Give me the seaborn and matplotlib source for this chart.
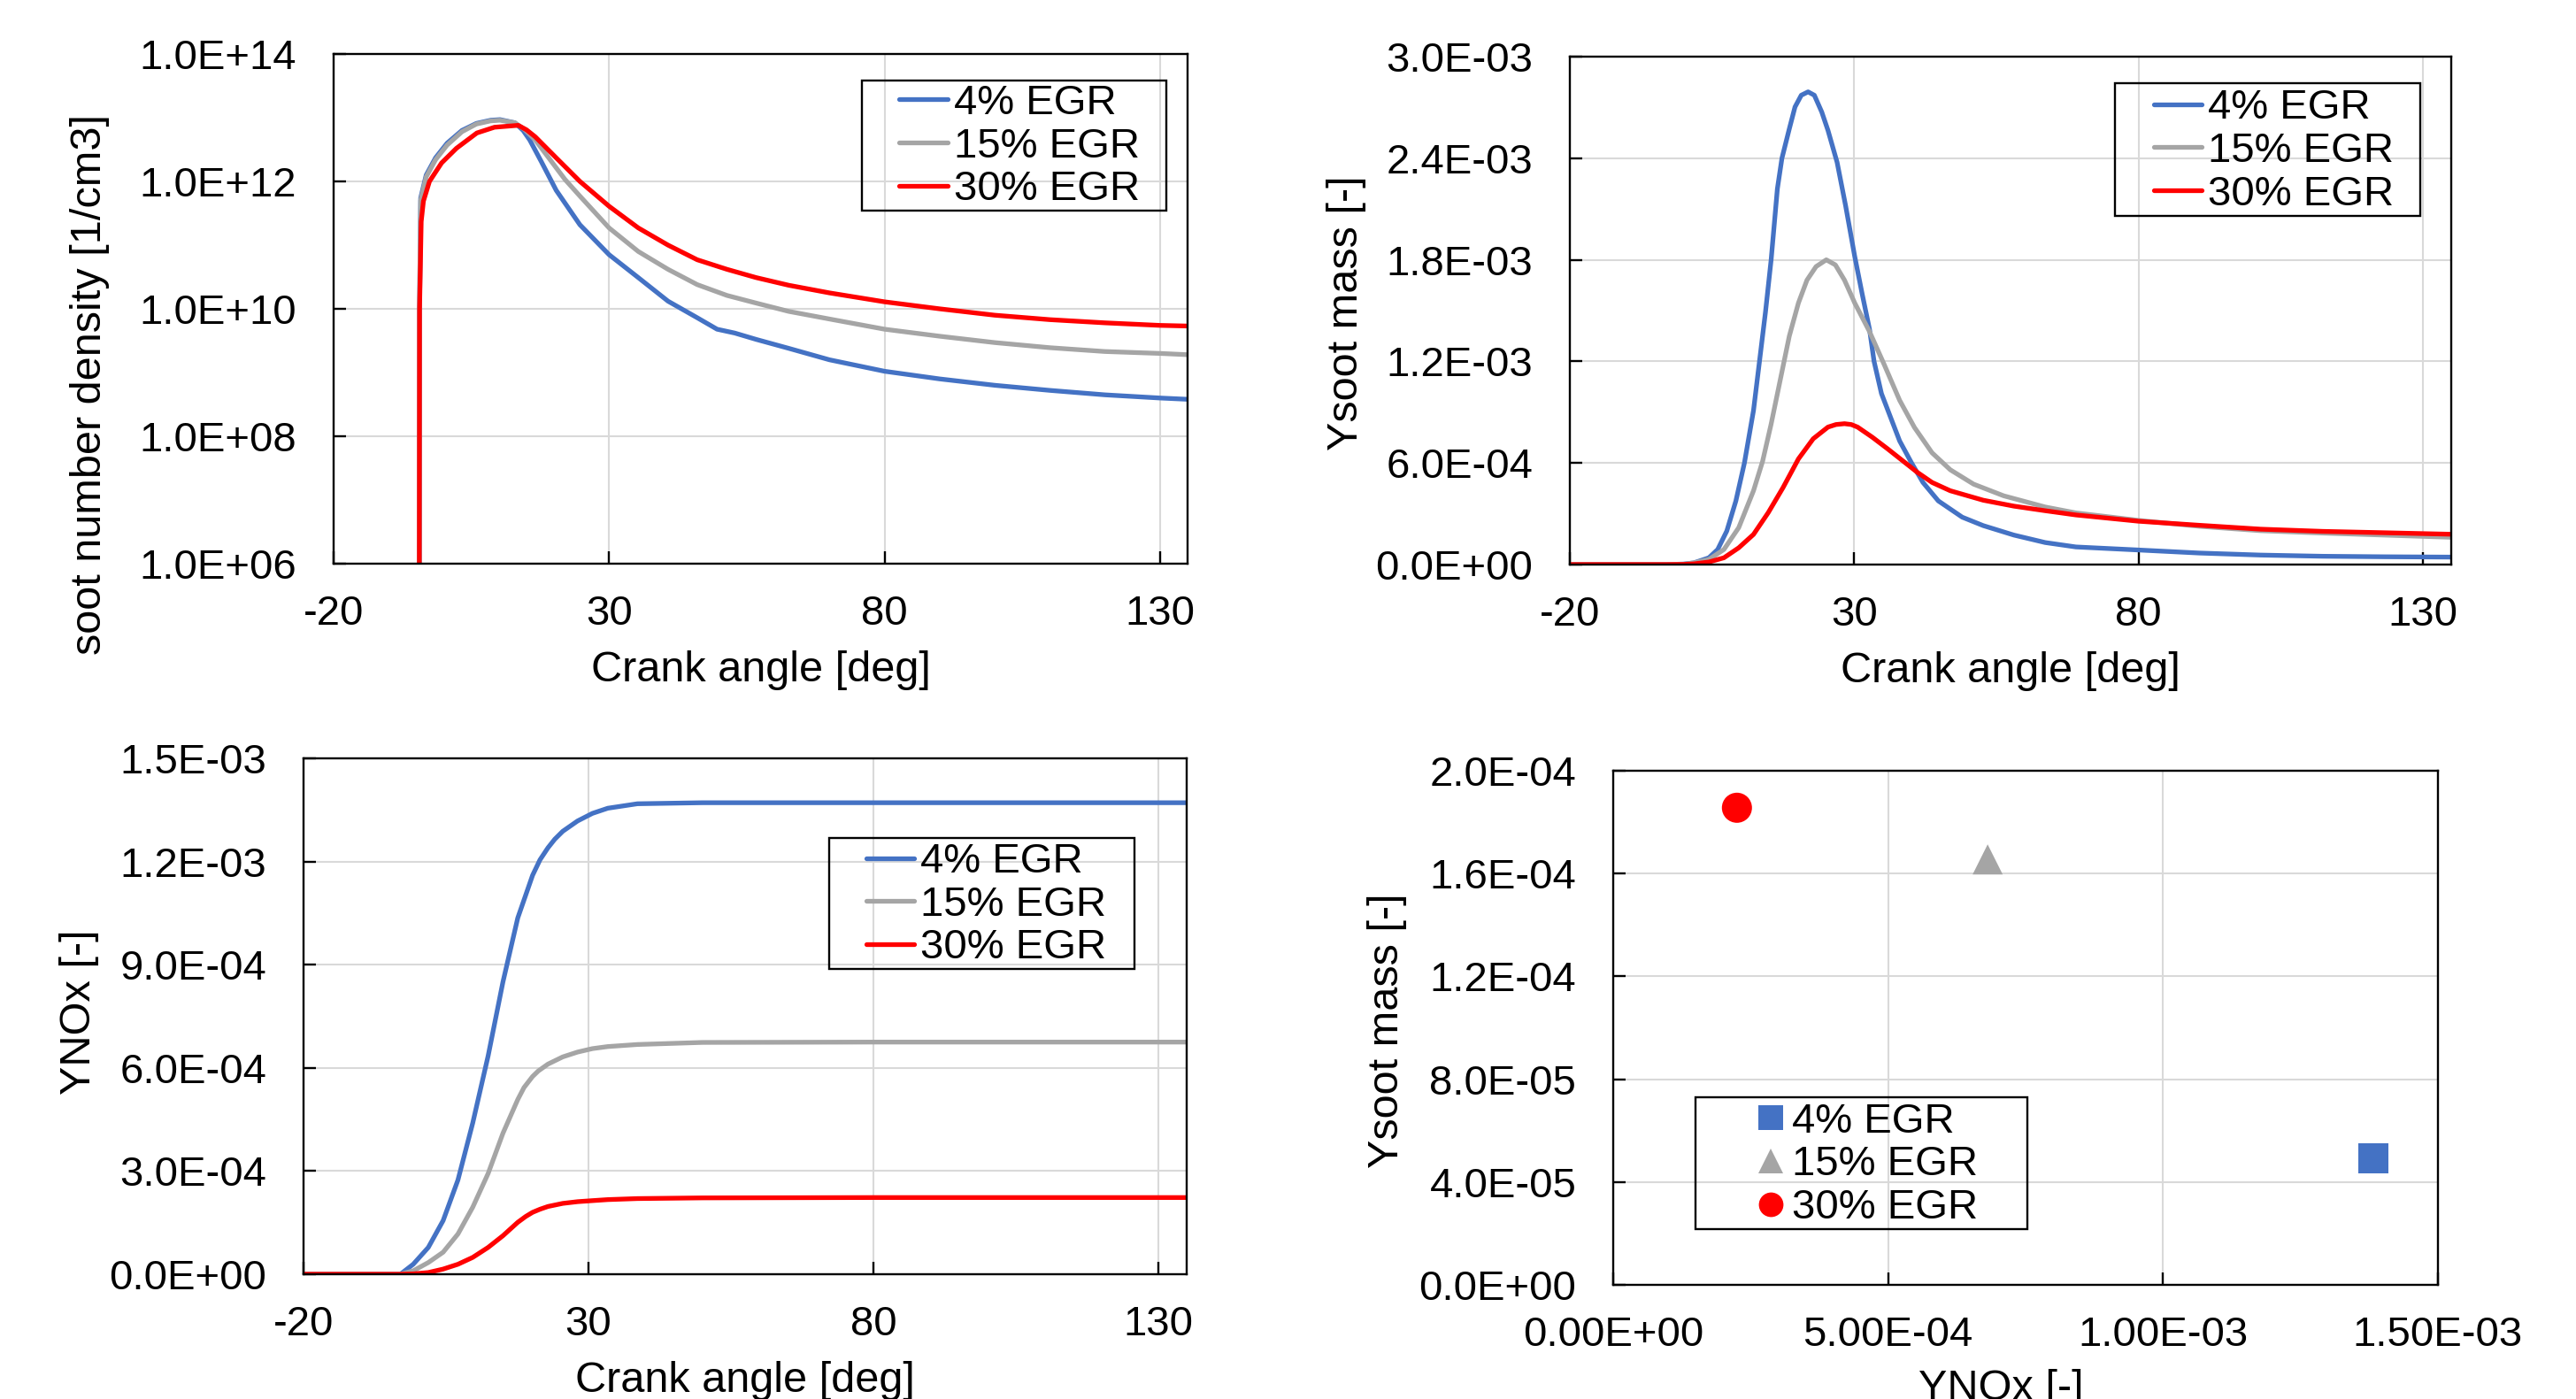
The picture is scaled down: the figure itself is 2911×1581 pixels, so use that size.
import numpy as np
import pandas as pd
import matplotlib
matplotlib.use('Agg')
import matplotlib.pyplot as plt
import matplotlib.ticker as mticker
from matplotlib.lines import Line2D
from matplotlib.patches import Rectangle
import seaborn as sns

# Casos y colores (estilo Excel)
casos = ['4% EGR', '15% EGR', '30% EGR']
colores = ['#4472C4', '#A5A5A5', '#FF0000']

# --- soot number density [1/cm3], guardado como log10 ---
nd_x_4 = [-4.45, -4.4, -4.2, -3.2, -1.5, 0.6, 3.3, 5.9, 8.5, 10.2, 12.9, 14.4, 15.6, 17.7, 20.4, 24.7,
          30, 35.3, 40.7, 46, 49.6, 52.8, 56.7, 62.6, 70, 80, 90, 100, 110, 120, 130, 135]
nd_log_4 = [5.0, 10.0, 11.74, 12.1, 12.37, 12.6, 12.8, 12.91, 12.96, 12.97, 12.92, 12.8, 12.65, 12.31, 11.86, 11.32,
            10.85, 10.49, 10.12, 9.86, 9.68, 9.62, 9.52, 9.38, 9.2, 9.02, 8.9, 8.8, 8.72, 8.65, 8.60, 8.58]
nd_x_15 = [-4.45, -4.4, -4.2, -3.2, -1.5, 0.6, 3.3, 5.9, 8.5, 10.2, 12.9, 14.6, 16.6, 19.3, 22, 24.7,
           30, 35.3, 40.7, 46, 51.4, 56.7, 62.6, 70, 80, 90, 100, 110, 120, 130, 135]
nd_log_15 = [5.0, 10.0, 11.7, 12.07, 12.34, 12.57, 12.78, 12.9, 12.95, 12.96, 12.92, 12.82, 12.65, 12.34, 12.03,
             11.77, 11.27, 10.9, 10.62, 10.38, 10.21, 10.09, 9.96, 9.84, 9.68, 9.57, 9.47, 9.39, 9.33, 9.30, 9.28]
nd_x_30 = [-4.45, -4.4, -4.1, -3.7, -2.6, -0.4, 2.3, 6.0, 9.2, 13.5, 15.0, 16.6, 20.4, 24.7,
           30, 35.3, 40.7, 46, 51.4, 56.7, 62.6, 70, 80, 90, 100, 110, 120, 130, 135]
nd_log_30 = [5.0, 10.0, 11.37, 11.69, 12.0, 12.29, 12.52, 12.76, 12.85, 12.88, 12.81, 12.70, 12.37, 12.0,
             11.61, 11.27, 11.0, 10.77, 10.62, 10.49, 10.37, 10.25, 10.11, 10.0, 9.9, 9.83, 9.78, 9.74, 9.73]

# --- Ysoot mass [-] (x1e-3) ---
ys_x_4 = [-20, -10, -3, 0, 1.8, 4.45, 6.0, 7.6, 9.2, 10.7, 12.3, 13.35, 14.4, 15.4, 16.5, 17.3, 18.6,
          19.6, 20.7, 21.9, 23.0, 24.3, 25.4, 27.0, 28.5, 30.1, 31.4, 32.7, 33.5, 34.8, 36.4, 38.0, 40.1,
          42.1, 44.8, 49.0, 52.7, 58.1, 63.6, 69.0, 80, 90.7, 101.5, 112.4, 123.2, 135]
ys_val_4 = [0, 0, 0, 0.003, 0.01, 0.04, 0.089, 0.198, 0.376, 0.6, 0.91, 1.2, 1.49, 1.8, 2.22, 2.4, 2.574,
            2.703, 2.772, 2.792, 2.772, 2.673, 2.564, 2.376, 2.119, 1.82, 1.6, 1.39, 1.2, 1.01, 0.87, 0.73,
            0.6, 0.485, 0.376, 0.28, 0.23, 0.174, 0.130, 0.104, 0.086, 0.068, 0.056, 0.049, 0.046, 0.044]
ys_x_15 = [-20, -10, -3, 0, 1.8, 4.45, 7.1, 9.7, 12.3, 13.9, 15.4, 17.0, 18.6, 20.2, 21.7, 23.3, 25.1,
           26.7, 28.3, 30.1, 32.7, 35.3, 38.0, 40.6, 43.7, 46.9, 51.0, 56.3, 63.6, 69.0, 80, 90.7,
           101.5, 112.4, 123.2, 135]
ys_val_15 = [0, 0, 0, 0.002, 0.01, 0.03, 0.089, 0.218, 0.436, 0.61, 0.83, 1.09, 1.35, 1.545, 1.68, 1.76,
             1.8, 1.77, 1.68, 1.545, 1.376, 1.18, 0.97, 0.81, 0.66, 0.56, 0.475, 0.406, 0.340, 0.305,
             0.261, 0.226, 0.200, 0.186, 0.174, 0.161]
ys_x_30 = [-20, -10, -3, 0, 1.8, 4.45, 7.1, 9.7, 12.3, 14.9, 17.5, 20.2, 22.8, 25.4, 26.8, 28.3, 29.5,
           30.6, 33.2, 35.9, 38.5, 41.1, 43.7, 46.9, 52.7, 58.1, 63.6, 69.0, 80, 90.7, 101.5, 112.4,
           123.2, 135]
ys_val_30 = [0, 0, 0, 0.001, 0.004, 0.015, 0.04, 0.099, 0.178, 0.307, 0.455, 0.624, 0.743, 0.812, 0.827,
             0.832, 0.827, 0.812, 0.752, 0.683, 0.614, 0.545, 0.485, 0.436, 0.38, 0.345, 0.318, 0.293,
             0.256, 0.232, 0.209, 0.196, 0.188, 0.179]

# --- YNOx [-] (x1e-3) ---
no_x_4 = [-20, -10, -3.0, -0.75, 1.9, 4.5, 7.1, 9.7, 12.4, 15.0, 17.6, 20.2, 21.5, 22.9, 24.1, 25.5,
          28.1, 30.7, 33.4, 38.6, 50, 80, 135]
no_val_4 = [0, 0, 0, 0.029, 0.078, 0.156, 0.274, 0.44, 0.635, 0.85, 1.036, 1.16, 1.205, 1.24, 1.265,
            1.288, 1.318, 1.34, 1.355, 1.368, 1.371, 1.371, 1.371]
no_x_15 = [-20, -10, -3.0, -0.75, 1.9, 4.5, 7.1, 9.7, 12.4, 15.0, 17.6, 18.7, 20.2, 21.2, 22.9, 25.5,
           28.1, 30.7, 33.4, 38.6, 50, 80, 135]
no_val_15 = [0, 0, 0, 0.01, 0.034, 0.064, 0.117, 0.195, 0.293, 0.41, 0.508, 0.543, 0.575, 0.591, 0.611,
             0.632, 0.646, 0.656, 0.662, 0.668, 0.674, 0.675, 0.675]
no_x_30 = [-20, -10, -3.0, -0.75, 1.9, 4.5, 7.1, 9.7, 12.4, 15.0, 17.6, 19.0, 20.2, 21.5, 22.9, 25.5,
           28.1, 30.7, 33.4, 38.6, 50, 80, 135]
no_val_30 = [0, 0, 0, 0.001, 0.005, 0.015, 0.029, 0.049, 0.078, 0.112, 0.151, 0.168, 0.18, 0.189, 0.197,
             0.206, 0.211, 0.214, 0.217, 0.220, 0.222, 0.223, 0.223]

# --- puntos finales: Ysoot vs YNOx ---
fin_nox = [1.383e-3, 6.81e-4, 2.25e-4]
fin_soot = [4.91e-5, 1.655e-4, 1.856e-4]
marcadores = {'4% EGR': 's', '15% EGR': '^', '30% EGR': 'o'}


def tabla(xs, ys, escala=1.0):
    partes = []
    for caso, x, y in zip(casos, xs, ys):
        partes.append(pd.DataFrame({'ca': x, 'val': np.array(y) * escala, 'caso': caso}))
    return pd.concat(partes, ignore_index=True)


df_nd = tabla([nd_x_4, nd_x_15, nd_x_30],
              [10 ** np.array(nd_log_4), 10 ** np.array(nd_log_15), 10 ** np.array(nd_log_30)])
df_ys = tabla([ys_x_4, ys_x_15, ys_x_30], [ys_val_4, ys_val_15, ys_val_30], 1e-3)
df_no = tabla([no_x_4, no_x_15, no_x_30], [no_val_4, no_val_15, no_val_30], 1e-3)
df_fin = pd.DataFrame({'nox': fin_nox, 'soot': fin_soot, 'caso': casos})

sns.set_theme(style='white')
plt.rcParams['font.family'] = ['Liberation Sans', 'DejaVu Sans']
plt.rcParams['axes.unicode_minus'] = False

fig = plt.figure(figsize=(29.11, 15.81), dpi=100)
ax1 = fig.add_axes([0.12951, 0.59709, 0.33150, 0.36433])
ax2 = fig.add_axes([0.60941, 0.59646, 0.34215, 0.36306])
ax3 = fig.add_axes([0.11783, 0.08918, 0.34284, 0.36875])
ax4 = fig.add_axes([0.62625, 0.08159, 0.32016, 0.36749])

paleta = dict(zip(casos, colores))
for ax, df in [(ax1, df_nd), (ax2, df_ys), (ax3, df_no)]:
    sns.lineplot(data=df, x='ca', y='val', hue='caso', hue_order=casos, palette=paleta,
                 estimator=None, sort=False, linewidth=3.8, legend=False, ax=ax)
    for ln in ax.get_lines():
        ln.set_solid_joinstyle('round')

sns.scatterplot(data=df_fin, x='nox', y='soot', hue='caso', hue_order=casos, palette=paleta,
                style='caso', markers=marcadores, s=600, linewidth=0, legend=False, ax=ax4, zorder=3)


def fmt(dec):
    return mticker.FuncFormatter(lambda v, p: format(v, '.%dE' % dec))


def estilo(ax):
    ax.grid(True, color='#D9D9D9', linewidth=1.5)
    ax.set_axisbelow(True)
    for s in ax.spines.values():
        s.set_visible(True)
        s.set_color('black')
        s.set_linewidth(1.7)
    ax.tick_params(direction='in', length=10, width=1.7, color='black', labelsize=34,
                   bottom=True, left=True, top=False, right=False, labelcolor='black')
    ax.tick_params(axis='x', pad=25)
    ax.tick_params(axis='y', pad=30)


# Panel 1: log
ax1.set_yscale('log')
ax1.set_ylim(1e6, 1e14)
ax1.set_yticks([1e6, 1e8, 1e10, 1e12, 1e14])
ax1.yaxis.set_minor_locator(mticker.NullLocator())
ax1.yaxis.set_major_formatter(fmt(1))

ax2.set_ylim(0, 3.0e-3)
ax2.set_yticks(np.arange(0, 3.01e-3, 6e-4))
ax2.yaxis.set_major_formatter(fmt(1))

ax3.set_ylim(0, 1.5e-3)
ax3.set_yticks(np.arange(0, 1.51e-3, 3e-4))
ax3.yaxis.set_major_formatter(fmt(1))

for ax in [ax1, ax2, ax3]:
    ax.set_xlim(-20, 135)
    ax.set_xticks([-20, 30, 80, 130])
    estilo(ax)

ax4.set_xlim(0, 1.5e-3)
ax4.set_xticks([0, 5e-4, 1e-3, 1.5e-3])
ax4.xaxis.set_major_formatter(fmt(2))
ax4.set_ylim(0, 2.0e-4)
ax4.set_yticks(np.arange(0, 2.01e-4, 4e-5))
ax4.yaxis.set_major_formatter(fmt(1))
estilo(ax4)

# Etiquetas de ejes
etiquetas = [
    (ax1, 'Crank angle [deg]', -0.170, 'soot number density [1/cm3]', -0.262, 0.352),
    (ax2, 'Crank angle [deg]', -0.170, 'Ysoot mass [-]', -0.231, 0.495),
    (ax3, 'Crank angle [deg]', -0.168, 'YNOx [-]', -0.231, 0.508),
    (ax4, 'YNOx [-]', -0.164, 'Ysoot mass [-]', -0.250, 0.494),
]
for ax, xl, xy, yl, yx, yy in etiquetas:
    ax.set_xlabel(xl, fontsize=35, color='black')
    ax.set_ylabel(yl, fontsize=35, color='black')
    ax.xaxis.set_label_coords(0.5 if ax is not ax4 else 0.47, xy)
    ax.yaxis.set_label_coords(yx, yy)

# Leyendas
kw_leg = dict(loc='upper right', frameon=False, fontsize=34, borderpad=0, borderaxespad=0,
              labelspacing=0.1, handletextpad=0.15)
leg1 = ax1.legend(ax1.get_lines(), casos, bbox_to_anchor=(0.944, 0.941), handlelength=1.15, **kw_leg)
leg2 = ax2.legend(ax2.get_lines(), casos, bbox_to_anchor=(0.935, 0.937), handlelength=1.15, **kw_leg)
leg3 = ax3.legend(ax3.get_lines(), casos, bbox_to_anchor=(0.909, 0.837), handlelength=1.15, **kw_leg)

manijas = [Line2D([], [], linestyle='None', marker=marcadores[c], color=paleta[c], markersize=20,
                  markeredgewidth=0) for c in casos]
kw4 = dict(kw_leg)
kw4['handletextpad'] = 0.2
leg4 = ax4.legend(manijas, casos, bbox_to_anchor=(0.442, 0.355), handlelength=0.6, **kw4)

for txt in leg1.get_texts() + leg2.get_texts() + leg3.get_texts() + leg4.get_texts():
    txt.set_color('black')

fig.canvas.draw()
inv = fig.transFigure.inverted()


def marco(leg, izq, der, arr, aba):
    bb = leg.get_window_extent()
    (x0, y0) = inv.transform((bb.x0 - izq, bb.y0 - aba))
    (x1, y1) = inv.transform((bb.x1 + der, bb.y1 + arr))
    fig.add_artist(Rectangle((x0, y0), x1 - x0, y1 - y0, transform=fig.transFigure,
                             fill=False, edgecolor='black', linewidth=1.7, zorder=10))


marco(leg1, 42, 30, 4, 2)
marco(leg2, 44, 30, 6, 2)
marco(leg3, 42, 32, 5, 2)
marco(leg4, 71, 56, 6, 2)

fig.savefig('out.png', dpi=100)
